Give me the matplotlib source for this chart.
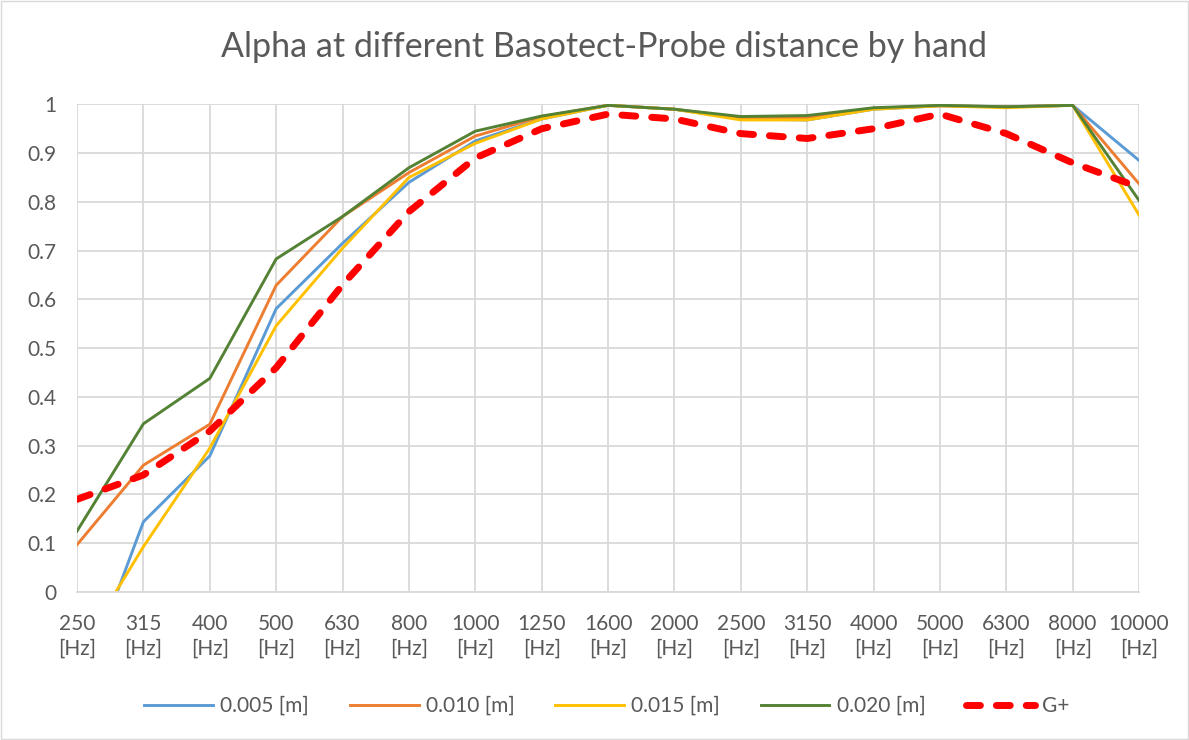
import matplotlib.pyplot as plt
import numpy as np

freqs = ["250", "315", "400", "500", "630", "800", "1000", "1250", "1600", "2000",
         "2500", "3150", "4000", "5000", "6300", "8000", "10000"]
alpha_005 = [-0.22, 0.144, 0.279, 0.581, 0.715, 0.84, 0.925, 0.97, 0.998, 0.99,
             0.97, 0.968, 0.99, 0.997, 0.995, 0.998, 0.885]
alpha_010 = [0.097, 0.26, 0.344, 0.629, 0.77, 0.86, 0.935, 0.975, 0.998, 0.99,
             0.972, 0.972, 0.992, 0.997, 0.995, 0.998, 0.837]
alpha_015 = [-0.13, 0.093, 0.295, 0.546, 0.705, 0.85, 0.92, 0.97, 0.998, 0.99,
             0.968, 0.968, 0.99, 0.997, 0.993, 0.998, 0.773]
alpha_020 = [0.125, 0.345, 0.438, 0.683, 0.77, 0.87, 0.945, 0.976, 0.998, 0.99,
             0.975, 0.977, 0.993, 0.998, 0.995, 0.998, 0.803]
alpha_gplus = [0.19, 0.24, 0.33, 0.46, 0.63, 0.78, 0.89, 0.95, 0.98, 0.97,
               0.94, 0.93, 0.95, 0.98, 0.94, 0.88, 0.83]

plt.rcParams['font.family'] = ['Lato', 'DejaVu Sans']
text_col = "#595959"
grid_col = "#D9D9D9"

fig = plt.figure(figsize=(11.89, 7.40), dpi=100)
ax = fig.add_axes([0.0648, 0.2, 0.8932, 0.659])

x = np.arange(len(freqs))
ax.plot(x, alpha_005, color="#5B9BD5", lw=2.1, label="0.005 [m]")
ax.plot(x, alpha_010, color="#ED7D31", lw=2.1, label="0.010 [m]")
ax.plot(x, alpha_015, color="#FFC000", lw=2.1, label="0.015 [m]")
ax.plot(x, alpha_020, color="#548235", lw=2.1, label="0.020 [m]")
ax.plot(x, alpha_gplus, color="#FF0000", lw=5, ls=(0, (2, 2.3)),
        dash_capstyle="round", label="G+")

ax.set_xlim(0, len(freqs) - 1)
ax.set_ylim(0, 1)
ax.set_yticks(np.arange(0, 1.01, 0.1))
ax.set_yticklabels(["0", "0.1", "0.2", "0.3", "0.4", "0.5", "0.6", "0.7", "0.8", "0.9", "1"])
ax.set_xticks(x)
ax.set_xticklabels([f + "\n[Hz]" for f in freqs], linespacing=1.3)
ax.tick_params(colors=text_col, labelsize=15, length=0)
ax.tick_params(axis="x", pad=16)
ax.tick_params(axis="y", pad=15)
ax.grid(True, color=grid_col, lw=1.3)
ax.set_axisbelow(True)
for s in ["left", "right", "top"]:
    ax.spines[s].set_visible(False)
ax.spines["bottom"].set_color(grid_col)
ax.spines["bottom"].set_linewidth(1.3)

fig.suptitle("Alpha at different Basotect-Probe distance by hand", x=0.508, y=0.936,
             va="center", fontsize=24.5, color=text_col)

fig.legend(loc="center", bbox_to_anchor=(0.5105, 0.046), ncol=5, frameon=False,
           fontsize=15, labelcolor=text_col, handlelength=3.3, handletextpad=0.35,
           columnspacing=1.95)

fig.patches.append(plt.Rectangle((0.001, 0.001), 0.998, 0.998, transform=fig.transFigure,
                                 fill=False, edgecolor=grid_col, lw=1))

fig.savefig("out.png", dpi=100)
